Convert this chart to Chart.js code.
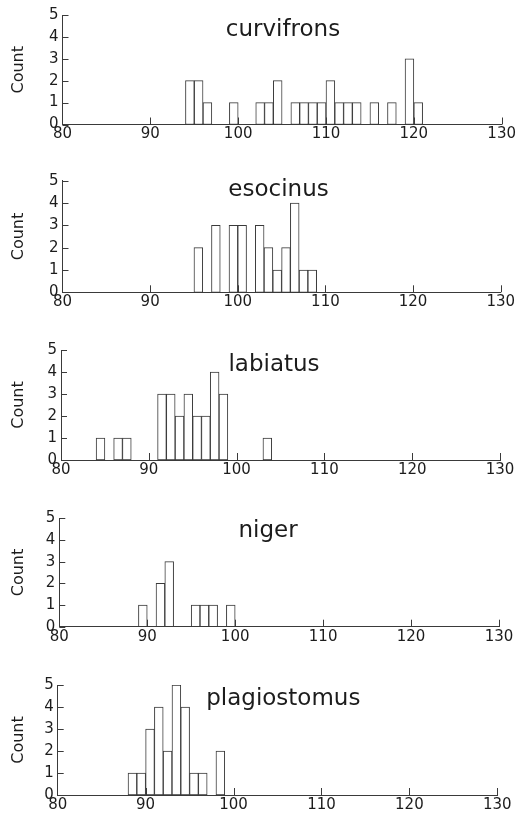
<!DOCTYPE html>
<html>
<head>
<meta charset="utf-8">
<script src="https://cdn.jsdelivr.net/npm/chart.js@4.4.1/dist/chart.umd.min.js"></script>
<style>
  html, body { margin: 0; padding: 0; background: #ffffff; }
  body { width: 517px; height: 825px; position: relative; overflow: hidden; }
  canvas { position: absolute; left: 0; }
</style>
</head>
<body>
<canvas id="c0" width="517" height="150"></canvas>
<canvas id="c1" width="517" height="150"></canvas>
<canvas id="c2" width="517" height="150"></canvas>
<canvas id="c3" width="517" height="150"></canvas>
<canvas id="c4" width="517" height="150"></canvas>
<script>
// ---------- data ----------
const speciesNames = ['curvifrons', 'esocinus', 'labiatus', 'niger', 'plagiostomus'];
const xTickValues = [80, 90, 100, 110, 120, 130];
const yTickValues = [0, 1, 2, 3, 4, 5];
const yAxisLabel = 'Count';

// left edge of each 1-unit bin, and its count
const curvifronsBins   = [94, 95, 96, 99, 102, 103, 104, 106, 107, 108, 109, 110, 111, 112, 113, 115, 117, 119, 120];
const curvifronsCounts = [2, 2, 1, 1, 1, 1, 2, 1, 1, 1, 1, 2, 1, 1, 1, 1, 1, 3, 1];
const esocinusBins   = [95, 97, 99, 100, 102, 103, 104, 105, 106, 107, 108];
const esocinusCounts = [2, 3, 3, 3, 3, 2, 1, 2, 4, 1, 1];
const labiatusBins   = [84, 86, 87, 91, 92, 93, 94, 95, 96, 97, 98, 103];
const labiatusCounts = [1, 1, 1, 3, 3, 2, 3, 2, 2, 4, 3, 1];
const nigerBins   = [89, 91, 92, 95, 96, 97, 99];
const nigerCounts = [1, 2, 3, 1, 1, 1, 1];
const plagiostomusBins   = [88, 89, 90, 91, 92, 93, 94, 95, 96, 98];
const plagiostomusCounts = [1, 1, 3, 4, 2, 5, 4, 1, 1, 2];

const seriesBins   = [curvifronsBins, esocinusBins, labiatusBins, nigerBins, plagiostomusBins];
const seriesCounts = [curvifronsCounts, esocinusCounts, labiatusCounts, nigerCounts, plagiostomusCounts];

// ---------- layout (page pixels) ----------
const layoutTop    = [15, 180.7, 350, 518.3, 685];
const layoutBottom = [124.5, 292.3, 460, 626.7, 795];
const layoutLeft   = [62.5, 62.5, 61, 59.3, 57.7];
const layoutRight  = [502, 500.7, 500, 499, 497.3];
const titleCenterX = [283, 278.5, 274, 268, 283.3];
const titleBaseY   = [36, 196, 370.7, 536.7, 705];

const LINE = '#3a3a3a';
const TEXT = '#1c1c1c';
const FONT = "'DejaVu Sans', sans-serif";

Chart.defaults.font.family = FONT;
Chart.defaults.color = TEXT;

const panelDecor = {
  id: 'panelDecor',
  afterDraw(chart, args, opts) {
    const { ctx, chartArea, scales: { x, y } } = chart;
    ctx.save();
    ctx.strokeStyle = LINE;
    ctx.lineWidth = 1;
    ctx.beginPath();
    y.ticks.forEach(t => {
      const py = Math.round(y.getPixelForValue(t.value)) + 0.5;
      ctx.moveTo(chartArea.left, py);
      ctx.lineTo(chartArea.left + 6, py);
    });
    x.ticks.forEach(t => {
      if (t.value === x.min) return;
      const px = Math.round(x.getPixelForValue(t.value)) + 0.5;
      ctx.moveTo(px, chartArea.bottom);
      ctx.lineTo(px, chartArea.bottom - 7);
    });
    ctx.stroke();
    ctx.fillStyle = TEXT;
    ctx.font = "23px " + FONT;
    ctx.textAlign = 'center';
    ctx.textBaseline = 'alphabetic';
    ctx.fillText(opts.text, opts.cx, opts.by);
    ctx.restore();
  }
};

speciesNames.forEach((name, i) => {
  const canvas = document.getElementById('c' + i);
  const canvasTop = Math.round(layoutTop[i]) - 15;
  canvas.style.top = canvasTop + 'px';
  const padTop = layoutTop[i] - canvasTop;
  const plotH = layoutBottom[i] - layoutTop[i];
  const xAxisH = 150 - padTop - plotH;
  const points = seriesBins[i].map((b, k) => ({ x: b + 0.5, y: seriesCounts[i][k] }));

  new Chart(canvas, {
    type: 'bar',
    data: {
      datasets: [{
        label: name,
        data: points,
        backgroundColor: '#ffffff',
        borderColor: LINE,
        borderWidth: 1,
        borderSkipped: false,
        barPercentage: 1,
        categoryPercentage: 1
      }]
    },
    options: {
      responsive: false,
      animation: false,
      events: [],
      layout: { padding: { top: padTop, left: 0, right: 517 - layoutRight[i], bottom: 0 } },
      plugins: {
        legend: { display: false },
        tooltip: { enabled: false },
        panelDecor: { text: name, cx: titleCenterX[i], by: titleBaseY[i] - canvasTop }
      },
      scales: {
        x: {
          type: 'linear',
          min: xTickValues[0],
          max: xTickValues[xTickValues.length - 1],
          offset: false,
          afterBuildTicks: s => { s.ticks = xTickValues.map(v => ({ value: v })); },
          afterFit: s => { s.height = xAxisH; },
          grid: { display: false, drawTicks: false, offset: false },
          border: { display: true, color: LINE, width: 1 },
          ticks: { font: { size: 15 }, color: TEXT, padding: 1, maxRotation: 0, autoSkip: false }
        },
        y: {
          type: 'linear',
          min: yTickValues[0],
          max: yTickValues[yTickValues.length - 1],
          afterBuildTicks: s => { s.ticks = yTickValues.map(v => ({ value: v })); },
          afterFit: s => { s.width = layoutLeft[i]; },
          grid: { display: false, drawTicks: false },
          border: { display: true, color: LINE, width: 1 },
          ticks: { font: { size: 15 }, color: TEXT, padding: 4 },
          title: { display: true, text: yAxisLabel, font: { size: 16 }, color: TEXT, padding: { top: 9, bottom: 0 } }
        }
      }
    },
    plugins: [panelDecor]
  });
});
</script>
</body>
</html>
